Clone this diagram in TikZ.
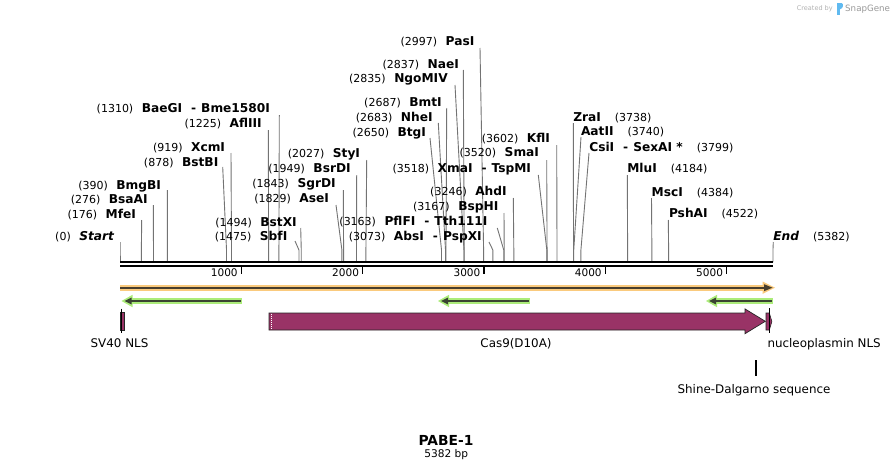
\documentclass[tikz,border=0pt]{standalone}
\usepackage{fontspec}
\setmainfont{DejaVu Sans}
\definecolor{featmag}{RGB}{153,51,102}
\definecolor{orhalo}{RGB}{250,202,125}
\definecolor{ordark}{RGB}{72,62,45}
\definecolor{grhalo}{RGB}{172,236,122}
\definecolor{grdark}{RGB}{58,68,50}
\definecolor{snapblue}{RGB}{96,186,240}
\newcommand\rnum[1]{{\fontsize{11}{13}\selectfont #1}}
\newcommand\rname[1]{{\fontsize{12.2}{14}\selectfont\bfseries #1}}
\newcommand\gapA{\hspace{8.5pt}}
\newcommand\gapB{\hspace{14pt}}
\newcommand\dashsep{\hspace{9pt}\rname{-}\hspace{5pt}}
% left label: id, text, end x, baseline y, top x, top y, position (bp)
\newcommand\lsite[7]{%
  \coordinate (#1t) at (#5,#6);
  \coordinate (#1b) at ({120+0.12133*#7},250);
  \coordinate (#1a) at ({120+0.12133*#7},262);
  \draw[cutline] (#1t) -- (#1b) -- (#1a);
  \node[lbl, anchor=base east] (#1) at (#3,#4) {#2};
}
\newcommand\rsite[7]{%
  \coordinate (#1t) at (#5,#6);
  \coordinate (#1b) at ({120+0.12133*#7},250);
  \coordinate (#1a) at ({120+0.12133*#7},262);
  \draw[cutline] (#1t) -- (#1b) -- (#1a);
  \node[lbl, anchor=base west] (#1) at (#3,#4) {#2};
}
\begin{document}
\begin{tikzpicture}[x=1pt,y=-1pt,
  lbl/.style={inner sep=0pt, outer sep=0pt},
  cutline/.style={draw=black!55, line width=0.9pt},
  featbox/.style={fill=featmag, draw=black!85, line width=0.7pt},
  featlbl/.style={inner sep=0pt, font=\fontsize{11.9}{14}\selectfont},
  marker/.style={draw=black, line width=0.9pt}]
\useasboundingbox (0,0) rectangle (894,471);
\fill[white] (0,0) rectangle (894,471);

% ---- cut sites (left labels) ----
\lsite{start}{\rnum{(0)}\gapA\rname{\itshape Start}}{114}{240.7}{120}{242}{0}
\lsite{mfei}{\rnum{(176)}\gapA\rname{MfeI}}{136}{218.3}{141.7}{220}{176}
\lsite{bsaai}{\rnum{(276)}\gapA\rname{BsaAI}}{147.7}{203.3}{153.3}{205}{276}
\lsite{bmgbi}{\rnum{(390)}\gapA\rname{BmgBI}}{161}{189}{167.3}{190}{390}
\lsite{bstbi}{\rnum{(878)}\gapA\rname{BstBI}}{218.3}{166}{222.7}{167}{878}
\lsite{xcmi}{\rnum{(919)}\gapA\rname{XcmI}}{225}{151}{231}{153}{919}
\lsite{aflIII}{\rnum{(1225)}\gapA\rname{AflIII}}{261.7}{127.7}{268.3}{130}{1225}
\lsite{baegi}{\rnum{(1310)}\gapA\rname{BaeGI}\dashsep\rname{Bme1580I}}{270}{112.7}{279.3}{115}{1310}
\lsite{sbfi}{\rnum{(1475)}\gapA\rname{SbfI}}{287.3}{240.7}{295}{241}{1475}
\lsite{bstxi}{\rnum{(1494)}\gapA\rname{BstXI}}{296.7}{226}{300.7}{228}{1494}
\lsite{asei}{\rnum{(1829)}\gapA\rname{AseI}}{329}{202.3}{336}{205}{1829}
\lsite{sgrdi}{\rnum{(1843)}\gapA\rname{SgrDI}}{335.7}{187.7}{343.3}{190}{1843}
\lsite{bsrdi}{\rnum{(1949)}\gapA\rname{BsrDI}}{350.7}{172.7}{356.7}{175}{1949}
\lsite{styi}{\rnum{(2027)}\gapA\rname{StyI}}{360}{157.7}{366.7}{160}{2027}
\lsite{btgi}{\rnum{(2650)}\gapA\rname{BtgI}}{426}{136}{430}{138}{2650}
\lsite{nhei}{\rnum{(2683)}\gapA\rname{NheI}}{432.7}{121}{438.3}{123}{2683}
\lsite{bmti}{\rnum{(2687)}\gapA\rname{BmtI}}{441.7}{106}{446.7}{108}{2687}
\lsite{ngomiv}{\rnum{(2835)}\gapA\rname{NgoMIV}}{447.7}{82.7}{455}{85}{2835}
\lsite{naei}{\rnum{(2837)}\gapA\rname{NaeI}}{459}{68.3}{463.3}{70}{2837}
\lsite{pasi}{\rnum{(2997)}\gapA\rname{PasI}}{474.3}{45.7}{480}{48}{2997}
\lsite{xmai}{\rnum{(3518)}\gapA\rname{XmaI}\dashsep\rname{TspMI}}{531}{172.7}{538.3}{175}{3518}
\lsite{smai}{\rnum{(3520)}\gapA\rname{SmaI}}{539}{156.7}{546.7}{160}{3520}
\lsite{kfli}{\rnum{(3602)}\gapA\rname{KflI}}{550}{142.3}{556.7}{145}{3602}
\lsite{ahdi}{\rnum{(3246)}\gapA\rname{AhdI}}{506.7}{195.7}{513.3}{198}{3246}
\lsite{bsphi}{\rnum{(3167)}\gapA\rname{BspHI}}{498.3}{210.7}{504}{213}{3167}
\lsite{pflfi}{\rnum{(3163)}\gapA\rname{PflFI}\dashsep\rname{Tth111I}}{487.3}{225.7}{497.3}{228}{3163}
\lsite{absi}{\rnum{(3073)}\gapA\rname{AbsI}\dashsep\rname{PspXI}}{481.7}{240}{489}{242}{3073}

% ---- cut sites (right labels) ----
\rsite{zrai}{\rname{ZraI}\gapB\rnum{(3738)}}{573.3}{121.7}{573.3}{123}{3738}
\rsite{aatii}{\rname{AatII}\gapB\rnum{(3740)}}{581}{135.7}{581}{137}{3740}
\rsite{csii}{\rname{CsiI}\dashsep\rname{SexAI *}\gapB\rnum{(3799)}}{589.3}{151}{589}{153}{3799}
\rsite{mlui}{\rname{MluI}\gapB\rnum{(4184)}}{627.3}{172.7}{627.3}{175}{4184}
\rsite{msci}{\rname{MscI}\gapB\rnum{(4384)}}{651.7}{196}{651.5}{198}{4384}
\rsite{pshai}{\rname{PshAI}\gapB\rnum{(4522)}}{669}{217.7}{668.3}{220}{4522}
\rsite{endl}{\rname{\itshape End}\gapB\rnum{(5382)}}{773.3}{240.7}{773.3}{242}{5382}

% ---- axis ----
\coordinate (ax0) at (120,261.9); \coordinate (ax1) at (773,261.9);
\coordinate (bx0) at (120,266); \coordinate (bx1) at (773,266);
\draw[line width=1.6pt] (ax0) -- (ax1);
\draw[line width=2.7pt] (bx0) -- (bx1);
\foreach \k in {1,...,5}{
  \coordinate (tk\k) at ({120+121.33*\k},266);
  \coordinate (tb\k) at ({120+121.33*\k},273.5);
  \draw[line width=1.4pt] (tk\k) -- (tb\k);
  \node[inner sep=0pt, anchor=base east, font=\fontsize{10.5}{12}\selectfont] (tl\k) at ({120+121.33*\k-3.5},276.7) {\k000};
}

% ---- orange full-length feature ----
\fill[orhalo] (120,284.7) rectangle (765,290.7);
\fill[orhalo] (762.5,281.5) -- (775,287.7) -- (762.5,293.9) -- cycle;
\draw[ordark, line width=1.8pt] (120,287.7) -- (766,287.7);
\fill[ordark] (764,284.2) -- (772.5,287.7) -- (764,291.2) -- cycle;

% ---- green arrows (pointing left) ----
\foreach \xa/\xb in {122/241.7, 438.5/530, 706.5/773.3}{
  \fill[grhalo] ({\xa+9},298) rectangle (\xb,304);
  \fill[grhalo] ({\xa+10.5},294.8) -- ({\xa-0.5},301) -- ({\xa+10.5},307.2) -- cycle;
  \draw[grdark, line width=1.8pt] ({\xa+7},301) -- ({\xb-1},301);
  \fill[grdark] ({\xa+9.5},297.6) -- ({\xa+2.5},301) -- ({\xa+9.5},304.4) -- cycle;
}

% ---- features ----
% SV40 NLS
\filldraw[featbox] (120,312) rectangle (124,330);
\draw[marker] (121.2,308.7) -- (121.2,333);
% Cas9(D10A)
\filldraw[featbox] (269,313) -- (745,313) -- (745,308.9) -- (765.3,321.3) -- (745,333.7) -- (745,330) -- (269,330) -- cycle;
\draw[white, line width=1pt, dash pattern=on 1pt off 1pt] (271.8,313.6) -- (271.8,329.4);
% nucleoplasmin NLS
\filldraw[featbox, line width=0.6pt] (766,313) -- (769.3,313) -- (771.9,321.5) -- (769.3,330) -- (766,330) -- cycle;
\draw[marker] (769.3,308) -- (769.3,333);
% Shine-Dalgarno
\coordinate (sd0) at (755.7,360); \coordinate (sd1) at (755.7,375.7);
\draw[line width=1.8pt] (sd0) -- (sd1);

\node[featlbl, anchor=base] (sv40) at (119.5,347) {SV40 NLS};
\node[featlbl, anchor=base] (cas9) at (516,347) {Cas9(D10A)};
\node[featlbl, anchor=base west] (npnls) at (767.3,347) {nucleoplasmin NLS};
\node[featlbl, anchor=base] (sdlbl) at (754,393.3) {Shine-Dalgarno sequence};

% ---- title ----
\node[inner sep=0pt, anchor=base, font=\fontsize{13.8}{16}\selectfont\bfseries] (title) at (446,445) {PABE-1};
\node[inner sep=0pt, anchor=base, font=\fontsize{10.6}{12}\selectfont] (bp) at (446.3,457.3) {5382 bp};

% ---- credit ----
\node[inner sep=0pt, anchor=base west, text=black!30, font=\fontsize{6.5}{8}\selectfont] (cby) at (796.7,10.5) {Created by};
\fill[snapblue] (836.8,3) rectangle (839.6,15);
\fill[snapblue] (839.6,3) -- (841.5,3) .. controls (843.8,3.5) and (843.8,8.5) .. (839.6,9.5) -- cycle;
\node[inner sep=0pt, anchor=base west, text=black!40, font=\fontsize{8.7}{10}\selectfont] (snap) at (845,11.5) {SnapGene};
\end{tikzpicture}
\end{document}
